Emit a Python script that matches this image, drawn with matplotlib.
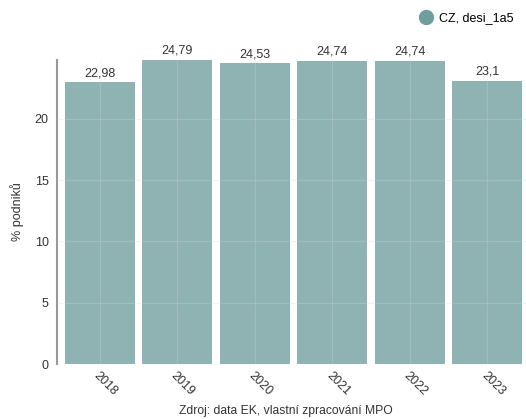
import numpy as np
import matplotlib.pyplot as plt
from matplotlib.lines import Line2D

plt.rcParams['font.family'] = ['Liberation Sans', 'DejaVu Sans']

years = ["2018", "2019", "2020", "2021", "2022", "2023"]
values = [22.98, 24.79, 24.53, 24.74, 24.74, 23.1]
labels = ["22,98", "24,79", "24,53", "24,74", "24,74", "23,1"]
series_name = "CZ, desi_1a5"

bar_color = "#8fb3b3"
legend_color = "#6f9f9c"
text_color = "#333333"

fig = plt.figure(figsize=(5.26, 4.19), dpi=100)
ax = fig.add_axes([57 / 526, 1 - 364 / 419, 469 / 526, 304 / 419])

x = np.arange(len(years))
ax.bar(x, values, width=0.9, color=bar_color, zorder=2)

for xi, v, lab in zip(x, values, labels):
    ax.text(xi, v + 0.25, lab, ha="center", va="bottom", fontsize=9, color=text_color)

ax.set_xlim(-0.55, len(years) - 0.5)
ax.set_ylim(0, 24.79)
ax.set_yticks([0, 5, 10, 15, 20])
ax.set_xticks(x)
ax.set_xticklabels(years, rotation=-45, ha="left", rotation_mode="anchor",
                   fontsize=9, color=text_color)
ax.tick_params(axis="y", labelsize=9, labelcolor=text_color, length=0, pad=6)
ax.tick_params(axis="x", length=0, pad=4)

ax.grid(axis="both", color="#d8d8d8", linewidth=0.8, alpha=0.25, zorder=3)
ax.set_axisbelow(False)
for s in ["top", "right", "bottom"]:
    ax.spines[s].set_visible(False)
ax.spines["left"].set_color("#999999")
ax.spines["left"].set_linewidth(1.5)

fig.text(17 / 526, 1 - 212 / 419, "% podniků", rotation=90, ha="center", va="center",
         fontsize=9, color=text_color)

handle = Line2D([], [], marker="o", linestyle="", markersize=10,
                markerfacecolor=legend_color, markeredgecolor=legend_color)
fig.legend([handle], [series_name], loc="upper right", bbox_to_anchor=(0.995, 0.995),
           frameon=False, fontsize=9, handletextpad=0.0, borderpad=0.3)

fig.text(286 / 526, 1 - 411 / 419, "Zdroj: data EK, vlastní zpracování MPO", ha="center",
         va="center", fontsize=8.7, color=text_color)

fig.savefig("out.png", dpi=100)
